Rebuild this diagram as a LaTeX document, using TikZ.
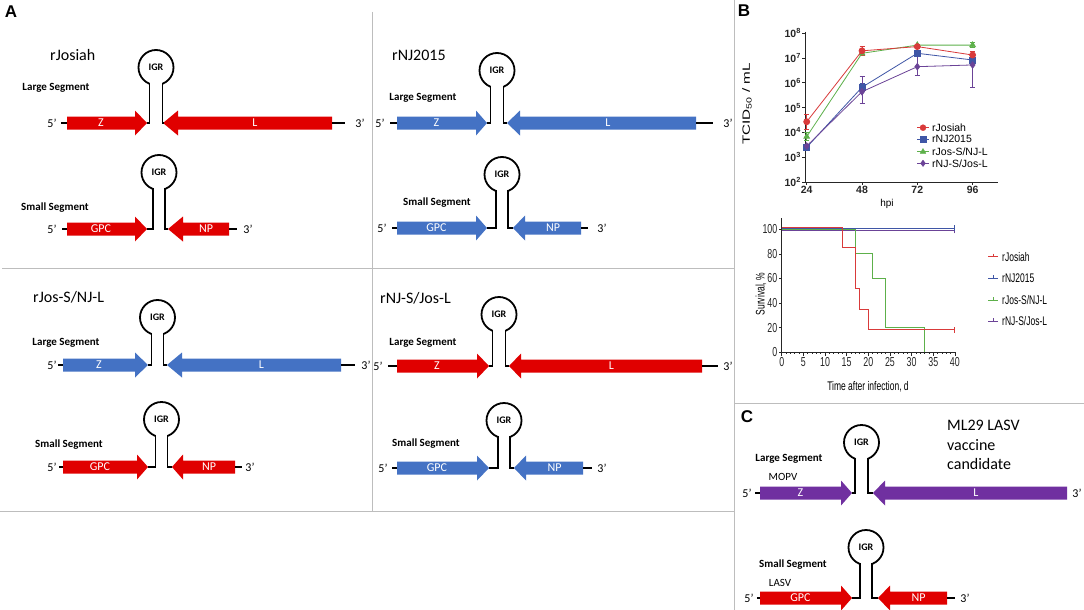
\documentclass[tikz,border=0pt]{standalone}
\usepackage{fontspec}
\usepackage{graphicx}
\setmainfont{Carlito}
\newfontfamily\arialf{Liberation Sans}
\newfontfamily\narrowf[FakeStretch=0.68]{Liberation Sans}
\usetikzlibrary{plotmarks}
\definecolor{gred}{HTML}{E00000}
\definecolor{gblue}{HTML}{4472C4}
\definecolor{gpurple}{HTML}{7030A0}
\definecolor{cred}{HTML}{D93A3A}
\definecolor{cblue}{HTML}{3F56A6}
\definecolor{cgreen}{HTML}{5DB04A}
\definecolor{cpurple}{HTML}{6B4397}
\definecolor{panelgray}{HTML}{BDBDBD}
% right-pointing gene arrow: name, colour, y, x start, x head back, x tip, label
\newcommand\genR[7]{%
  \fill[#2] (#4,{#3-6.5}) -- (#5,{#3-6.5}) -- (#5,{#3-12.5}) -- (#6,#3) -- (#5,{#3+12.5}) -- (#5,{#3+6.5}) -- (#4,{#3+6.5}) -- cycle;
  \node[genelbl] (#1) at ({(#4+#5)/2},#3) {#7};}
% left-pointing gene arrow: name, colour, y, x tip, x head back, x end, label
\newcommand\genL[7]{%
  \fill[#2] (#4,#3) -- (#5,{#3-12.5}) -- (#5,{#3-6.5}) -- (#6,{#3-6.5}) -- (#6,{#3+6.5}) -- (#5,{#3+6.5}) -- (#5,{#3+12.5}) -- cycle;
  \node[genelbl] (#1) at ({(#5+#6)/2},#3) {#7};}
% IGR loop: name, cx, top-based cy, x left stem, x right stem, y row, left tip, right tip
\newcommand\igrloop[8]{%
  \draw[loopline] (#2,{#3+1.5}) circle[radius=17.5];
  \fill[white] ({#4+0.95},{#3+10}) rectangle ({#5-0.95},{#3+21});
  \draw[loopline] (#7,#6) -- (#4,#6) -- (#4,{#3+1.5+sqrt(306.25-(#4-#2)*(#4-#2))});
  \draw[loopline] (#8,#6) -- (#5,#6) -- (#5,{#3+1.5+sqrt(306.25-(#5-#2)*(#5-#2))});
  \node[igrlbl] (#1) at (#2,{#3+1.5}) {IGR};}
% error bar: colour, x, low, high
\newcommand\errbar[4]{%
  \draw[#1, line width=0.7pt] (#2,#3) -- (#2,#4) (#2,#3) ++(-2.5pt,0) -- ++(5pt,0) (#2,#4) ++(-2.5pt,0) -- ++(5pt,0);}
\begin{document}
\begin{tikzpicture}[x=1pt,y=-1pt,
  panel/.style={draw=panelgray, line width=1pt},
  loopline/.style={line width=1.8pt, black, line join=miter},
  segline/.style={line width=1.8pt, black},
  genelbl/.style={text=white, font=\fontsize{12}{12}\selectfont, inner sep=0},
  endlbl/.style={font=\fontsize{12}{12}\selectfont, inner sep=0},
  seglbl/.style={font=\bfseries\fontsize{11}{11}\selectfont, inner sep=0},
  srclbl/.style={font=\fontsize{11}{11}\selectfont, inner sep=0},
  title/.style={font=\fontsize{16}{16}\selectfont, anchor=base west, inner sep=0},
  igrlbl/.style={font=\bfseries\fontsize{10}{10}\selectfont, inner sep=0},
  letter/.style={font=\arialf\bfseries\fontsize{17}{17}\selectfont, inner sep=0},
  axisline/.style={line width=0.8pt, black!85},
  tickA/.style={font=\arialf\bfseries\fontsize{10.5}{10.5}\selectfont, inner sep=1pt},
  legA/.style={font=\arialf\fontsize{10.5}{10.5}\selectfont, anchor=west, inner sep=0},
  tickB/.style={font=\narrowf\fontsize{13}{13}\selectfont, inner sep=1pt},
  legB/.style={font=\narrowf\fontsize{12.5}{12.5}\selectfont, anchor=west, inner sep=0},
  curve/.style={line width=1pt},
]
\useasboundingbox[fill=white] (0,0) rectangle (1084,610);

% ---------- panel frames ----------
\draw[panel] (2,268) -- (734,268);
\draw[panel] (372,12) -- (372,511);
\draw[panel] (0,511) -- (734,511);
\draw[panel] (734,0) -- (734,610);
\draw[panel] (734,403) -- (1084,403);

\node[letter] (A) at (11,12) {A};
\node[letter] (B) at (744,11) {B};
\node[letter] (C) at (747,417) {C};

% ---------- rJosiah ----------
\node[title] (t1) at (50,60) {rJosiah};
\node[seglbl] (l1) at (56,88) {Large Segment};
\node[endlbl] (f1) at (52,123) {5’};
\draw[segline] (61,123) -- (67,123);
\genR{z1}{gred}{123}{67}{135}{147}{Z}
\genL{L1}{gred}{123}{163}{178}{332}{L}
\draw[segline] (332,123) -- (345,123);
\node[endlbl] (e1) at (360,123) {3’};
\igrloop{i1}{156}{66}{149.5}{162.5}{123}{147}{163}
\node[seglbl] (s1) at (55,208) {Small Segment};
\node[endlbl] (f1s) at (52,229) {5’};
\draw[segline] (62,229) -- (67,229);
\genR{g1}{gred}{229}{67}{135}{147}{GPC}
\genL{n1}{gred}{229}{168}{183}{229}{NP}
\draw[segline] (229,229) -- (237,229);
\node[endlbl] (e1s) at (248,229) {3’};
\igrloop{i1s}{159}{171}{153}{165}{229}{147}{168}

% ---------- rNJ2015 ----------
\node[title] (t2) at (392,60) {rNJ2015};
\node[seglbl] (l2) at (423,98) {Large Segment};
\node[endlbl] (f2) at (380,123) {5’};
\draw[segline] (390,123) -- (397,123);
\genR{z2}{gblue}{123}{397}{476}{487}{Z}
\genL{L2}{gblue}{123}{507}{520}{696}{L}
\draw[segline] (696,123) -- (713,123);
\node[endlbl] (e2) at (728,123) {3’};
\igrloop{i2}{497}{69}{490.5}{503.5}{123}{487}{507}
\node[seglbl] (s2) at (437,203) {Small Segment};
\node[endlbl] (f2s) at (382,228) {5’};
\draw[segline] (392,228) -- (397,228);
\genR{g2}{gblue}{228}{397}{476}{487}{GPC}
\genL{n2}{gblue}{228}{513}{525}{581}{NP}
\draw[segline] (581,228) -- (588,228);
\node[endlbl] (e2s) at (602,228) {3’};
\igrloop{i2s}{502}{173}{496}{508}{228}{487}{513}

% ---------- rJos-S/NJ-L ----------
\node[title] (t3) at (33,302) {rJos-S/NJ-L};
\node[seglbl] (l3) at (66,343) {Large Segment};
\node[endlbl] (f3) at (52,365) {5’};
\draw[segline] (58,365) -- (63,365);
\genR{z3}{gblue}{365}{63}{135}{148}{Z}
\genL{L3}{gblue}{365}{167}{182}{341}{L}
\draw[segline] (341,365) -- (355,365);
\node[endlbl] (e3) at (366,365) {3’};
\igrloop{i3}{157.5}{316}{151.5}{163.5}{365}{148}{167}
\node[seglbl] (s3) at (69,445) {Small Segment};
\node[endlbl] (f3s) at (52,467) {5’};
\draw[segline] (59,467) -- (63,467);
\genR{g3}{gred}{467}{63}{137}{148}{GPC}
\genL{n3}{gred}{467}{172}{183}{235}{NP}
\draw[segline] (235,467) -- (242,467);
\node[endlbl] (e3s) at (250,467) {3’};
\igrloop{i3s}{161.5}{418}{155.5}{167.5}{467}{148}{172}

% ---------- rNJ-S/Jos-L ----------
\node[title] (t4) at (380,303) {rNJ-S/Jos-L};
\node[seglbl] (l4) at (423,343) {Large Segment};
\node[endlbl] (f4) at (378,366) {5’};
\draw[segline] (388,366) -- (397,366);
\genR{z4}{gred}{366}{397}{477}{489}{Z}
\genL{L4}{gred}{366}{509}{521}{702}{L}
\draw[segline] (702,366) -- (718,366);
\node[endlbl] (e4) at (728,366) {3’};
\igrloop{i4}{499}{313}{492.5}{505.5}{366}{489}{509}
\node[seglbl] (s4) at (426,444) {Small Segment};
\node[endlbl] (f4s) at (383,468) {5’};
\draw[segline] (392,468) -- (397,468);
\genR{g4}{gblue}{468}{397}{477}{489}{GPC}
\genL{n4}{gblue}{468}{514}{526}{583}{NP}
\draw[segline] (583,468) -- (592,468);
\node[endlbl] (e4s) at (602,468) {3’};
\igrloop{i4s}{504}{419}{498}{510}{468}{489}{514}

% ---------- panel C ----------
\node[font=\fontsize{16}{19.5}\selectfont, align=left, anchor=north west, inner sep=0] (ml29) at (947,420) {ML29 LASV\\vaccine\\candidate};
\node[seglbl] (l5) at (789,459) {Large Segment};
\node[srclbl] (mopv) at (783,477) {MOPV};
\node[endlbl] (f5) at (747,493) {5’};
\draw[segline] (755,493) -- (760,493);
\genR{z5}{gpurple}{493}{760}{841}{852}{Z}
\genL{L5}{gpurple}{493}{873}{885}{1067}{L}
\node[endlbl] (e5) at (1077,493) {3’};
\igrloop{i5}{861.5}{441}{855}{868}{493}{852}{873}
\node[seglbl] (s5) at (793,565) {Small Segment};
\node[srclbl] (lasv) at (780,583) {LASV};
\node[endlbl] (f5s) at (749,598) {5’};
\draw[segline] (757,598) -- (760,598);
\genR{g5}{gred}{598}{760}{841}{852}{GPC}
\genL{n5}{gred}{598}{878}{890}{947}{NP}
\draw[segline] (947,598) -- (955,598);
\node[endlbl] (e5s) at (965,598) {3’};
\igrloop{i5s}{866}{546}{860}{872}{598}{852}{878}

% ---------- chart B1: titres ----------
\node[font=\arialf\fontsize{10.5}{10.5}\selectfont, rotate=90, inner sep=0] (tcid) at (747,104) {\scalebox{1.45}[1]{TCID\textsubscript{50} / mL}};
\node[font=\arialf\fontsize{10}{10}\selectfont, inner sep=0] (hpi) at (887,204) {hpi};
\begin{scope}[shift={(806.7pt,-182pt)}, x=2.304pt, y=24.8pt]
  \draw[axisline] (-0.6,6.05) -- (-0.6,0) -- (83,0);
  \foreach \k [evaluate=\k as \e using int(\k+2)] in {0,...,6}
    \draw[axisline] (-0.6,\k) -- ++(-3pt,0) node[tickA, anchor=east] (yt\e) {10\textsuperscript{\e}};
  \foreach \h/\lab in {0/24,24/48,48/72,72/96}
    \draw[axisline] (\h,0) -- ++(0,-3pt) node[tickA, anchor=north] (xt\lab) {\lab};
  % error bars
  \errbar{cred}{0}{2.13}{2.74}
  \errbar{cred}{24}{5.12}{5.46}
  \errbar{cred}{72}{5.0}{5.25}
  \errbar{cblue}{24}{3.64}{3.98}
  \errbar{cblue}{48}{5.05}{5.32}
  \errbar{cblue}{72}{4.78}{5.05}
  \errbar{cgreen}{0}{1.69}{1.99}
  \errbar{cgreen}{72}{5.42}{5.62}
  \errbar{cpurple}{24}{3.17}{4.27}
  \errbar{cpurple}{48}{4.31}{5.12}
  \errbar{cpurple}{72}{3.82}{5.12}
  \draw[cblue, line width=0.8pt] plot[mark=square*, mark size=3pt, mark options={fill=cblue}] coordinates {(0,1.40) (24,3.82) (48,5.19) (72,4.92)};
  \draw[cpurple, line width=0.8pt] plot[mark=diamond*, mark size=3.2pt, mark options={fill=cpurple}] coordinates {(0,1.45) (24,3.64) (48,4.65) (72,4.72)};
  \draw[cgreen, line width=0.8pt] plot[mark=triangle*, mark size=3.2pt, mark options={fill=cgreen}] coordinates {(0,1.83) (24,5.19) (48,5.52) (72,5.52)};
  \draw[cred, line width=0.8pt] plot[mark=*, mark size=3pt, mark options={fill=cred}] coordinates {(0,2.43) (24,5.29) (48,5.46) (72,5.12)};
\end{scope}
% legend B1
\draw[cred, line width=0.8pt] (917,127.7) -- (929,127.7);
\path plot[mark=*, mark size=3pt, mark options={cred, fill=cred}] coordinates {(923,127.7)};
\node[legA] (la1) at (932,127.7) {rJosiah};
\draw[cblue, line width=0.8pt] (917,139.3) -- (929,139.3);
\path plot[mark=square*, mark size=3pt, mark options={cblue, fill=cblue}] coordinates {(923,139.3)};
\node[legA] (la2) at (932,139.3) {rNJ2015};
\draw[cgreen, line width=0.8pt] (917,151.7) -- (929,151.7);
\path plot[mark=triangle*, mark size=3.2pt, mark options={cgreen, fill=cgreen}] coordinates {(923,151.7)};
\node[legA] (la3) at (932,151.7) {rJos-S/NJ-L};
\draw[cpurple, line width=0.8pt] (917,163.3) -- (929,163.3);
\path plot[mark=diamond*, mark size=3.2pt, mark options={cpurple, fill=cpurple}] coordinates {(923,163.3)};
\node[legA] (la4) at (932,163.3) {rNJ-S/Jos-L};

% ---------- chart B2: survival ----------
\node[font=\narrowf\fontsize{12.5}{12.5}\selectfont, rotate=90, inner sep=0] (surv) at (761,294) {Survival, \%};
\node[font=\narrowf\fontsize{12.5}{12.5}\selectfont, inner sep=0] (tai) at (868,387) {Time after infection, d};
\begin{scope}[shift={(781.7pt,-352.3pt)}, x=4.33pt, y=1.23pt]
  \draw[axisline] (0,109) -- (0,0) -- (40,0);
  \foreach \v in {0,20,...,100}
    \draw[axisline] (0,\v) -- ++(-3pt,0) node[tickB, anchor=east] (sy\v) {\v};
  \foreach \d in {0,...,40}
    \draw[axisline, line width=0.6pt] (\d,0) -- ++(0,-2pt);
  \foreach \d in {0,5,...,40}
    \draw[axisline] (\d,0) -- ++(0,-4pt) node[tickB, anchor=north] (sx\d) {\d};
  \draw[cpurple, curve] (0,99.2) -- (40,99.2) ++(0,-3pt) -- ++(0,6pt);
  \draw[cblue, curve] (0,100.8) -- (40,100.8) ++(0,-3pt) -- ++(0,6pt);
  \draw[cgreen, curve] (0,100) -- (17,100) -- (17,80) -- (21,80) -- (21,60) -- (24,60) -- (24,20) -- (33,20) -- (33,0);
  \draw[cred, curve] (0,101.8) -- (14,101.8) -- (14,85) -- (17,85) -- (17,52) -- (18,52) -- (18,35) -- (20,35) -- (20,18.4) -- (40,18.4) ++(0,-3pt) -- ++(0,6pt);
\end{scope}
% legend B2
\draw[cred, curve] (988,256.7) -- (998,256.7) (993,253.7) -- (993,256.7);
\node[legB] (lb1) at (1002,256.7) {rJosiah};
\draw[cblue, curve] (988,278.3) -- (998,278.3) (993,275.3) -- (993,278.3);
\node[legB] (lb2) at (1002,278.3) {rNJ2015};
\draw[cgreen, curve] (988,300) -- (998,300) (993,297) -- (993,300);
\node[legB] (lb3) at (1002,300) {rJos-S/NJ-L};
\draw[cpurple, curve] (988,321) -- (998,321) (993,318) -- (993,321);
\node[legB] (lb4) at (1002,321) {rNJ-S/Jos-L};
\end{tikzpicture}
\end{document}
